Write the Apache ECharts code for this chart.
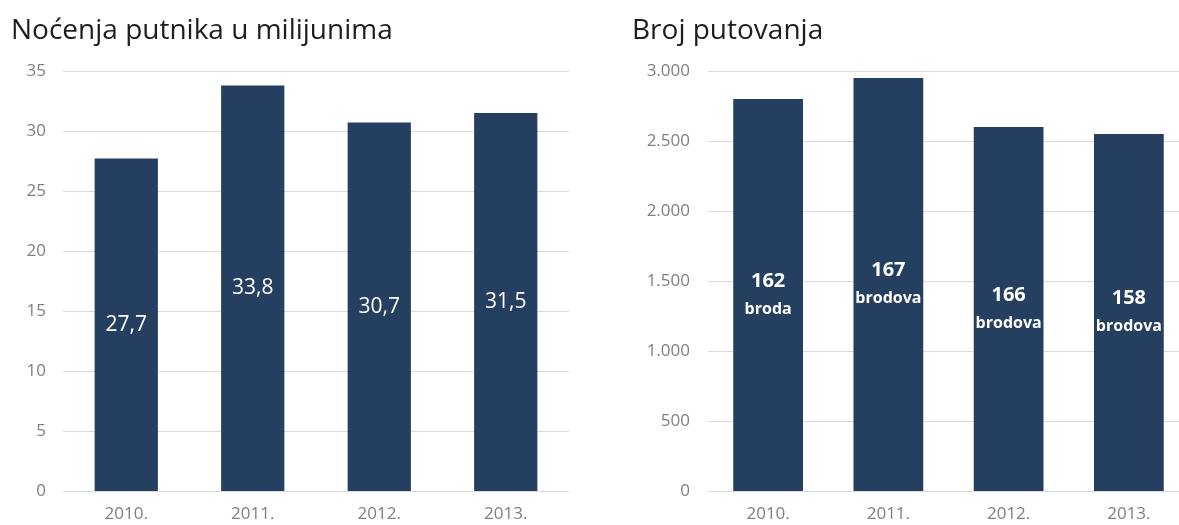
<!DOCTYPE html>
<html>
<head>
<meta charset="utf-8">
<script src="https://cdn.jsdelivr.net/npm/echarts@6/dist/echarts.min.js"></script>
<style>
html,body{margin:0;padding:0;background:#fff;}
#chart{width:1179px;height:525px;}
</style>
</head>
<body>
<div id="chart"></div>
<script>
const years = ['2010.', '2011.', '2012.', '2013.'];
const nights = [27.7, 33.8, 30.7, 31.5];
const trips = [2800, 2950, 2600, 2550];
const ships = [162, 167, 166, 158];
const shipWords = ['broda', 'brodova', 'brodova', 'brodova'];
const leftTicks = { min: 0, max: 35, interval: 5 };
const rightTicks = { min: 0, max: 3000, interval: 500 };

const FONT = '"Open Sans", "Noto Sans", sans-serif';
const BAR = '#253f61';
const AXIS_TXT = '#7f7f7f';
const GRID_LINE = '#d9d9d9';

const chart = echarts.init(document.getElementById('chart'), null, { renderer: 'canvas' });

function fmtThousands(v) {
  return String(v).replace(/\B(?=(\d{3})+(?!\d))/g, '.');
}

const xAxisCommon = {
  type: 'category',
  data: years,
  axisLine: { show: false },
  axisTick: { show: false },
  axisLabel: { color: AXIS_TXT, fontFamily: FONT, fontSize: 17, margin: 15 }
};
const yAxisCommon = {
  type: 'value',
  axisLine: { show: false },
  axisTick: { show: false },
  splitLine: { lineStyle: { color: GRID_LINE, width: 1 } },
  axisLabel: { color: AXIS_TXT, fontFamily: FONT, fontSize: 17 }
};

const option = {
  backgroundColor: '#ffffff',
  animation: false,
  title: [
    { text: 'Noćenja putnika u milijunima', left: 6, top: 12,
      textStyle: { fontFamily: FONT, fontSize: 28, fontWeight: 'normal', color: '#1e1e1e' } },
    { text: 'Broj putovanja', left: 627, top: 12,
      textStyle: { fontFamily: FONT, fontSize: 28, fontWeight: 'normal', color: '#1e1e1e' } }
  ],
  grid: [
    { left: 63, top: 71, width: 506, height: 420, outerBoundsMode: 'none' },
    { left: 708, top: 71, width: 481, height: 420, outerBoundsMode: 'none' }
  ],
  xAxis: [
    Object.assign({ gridIndex: 0 }, xAxisCommon),
    Object.assign({ gridIndex: 1 }, xAxisCommon)
  ],
  yAxis: [
    Object.assign({ gridIndex: 0 }, yAxisCommon, leftTicks,
      { axisLabel: Object.assign({}, yAxisCommon.axisLabel, { margin: 17 }) }),
    Object.assign({ gridIndex: 1 }, yAxisCommon, rightTicks,
      { axisLabel: Object.assign({}, yAxisCommon.axisLabel, { margin: 18, formatter: fmtThousands }) })
  ],
  series: [
    {
      type: 'bar', xAxisIndex: 0, yAxisIndex: 0, data: nights,
      barWidth: '50%',
      itemStyle: { color: BAR },
      label: {
        show: true, position: 'inside', color: '#fff', fontFamily: FONT, fontSize: 21,
        formatter: p => String(p.value).replace('.', ',')
      }
    },
    {
      type: 'bar', xAxisIndex: 1, yAxisIndex: 1, data: trips,
      barWidth: '58%',
      itemStyle: { color: BAR },
      label: {
        show: true, position: 'inside', color: '#fff', fontFamily: FONT,
        formatter: p => '{a|' + ships[p.dataIndex] + '}\n{b|' + shipWords[p.dataIndex] + '}',
        rich: {
          a: { fontFamily: FONT, fontSize: 20, fontWeight: 'bold', color: '#fff', lineHeight: 28 },
          b: { fontFamily: FONT, fontSize: 16, fontWeight: 'bold', color: '#fff', lineHeight: 28 }
        }
      }
    }
  ]
};
chart.setOption(option);
</script>
</body>
</html>
